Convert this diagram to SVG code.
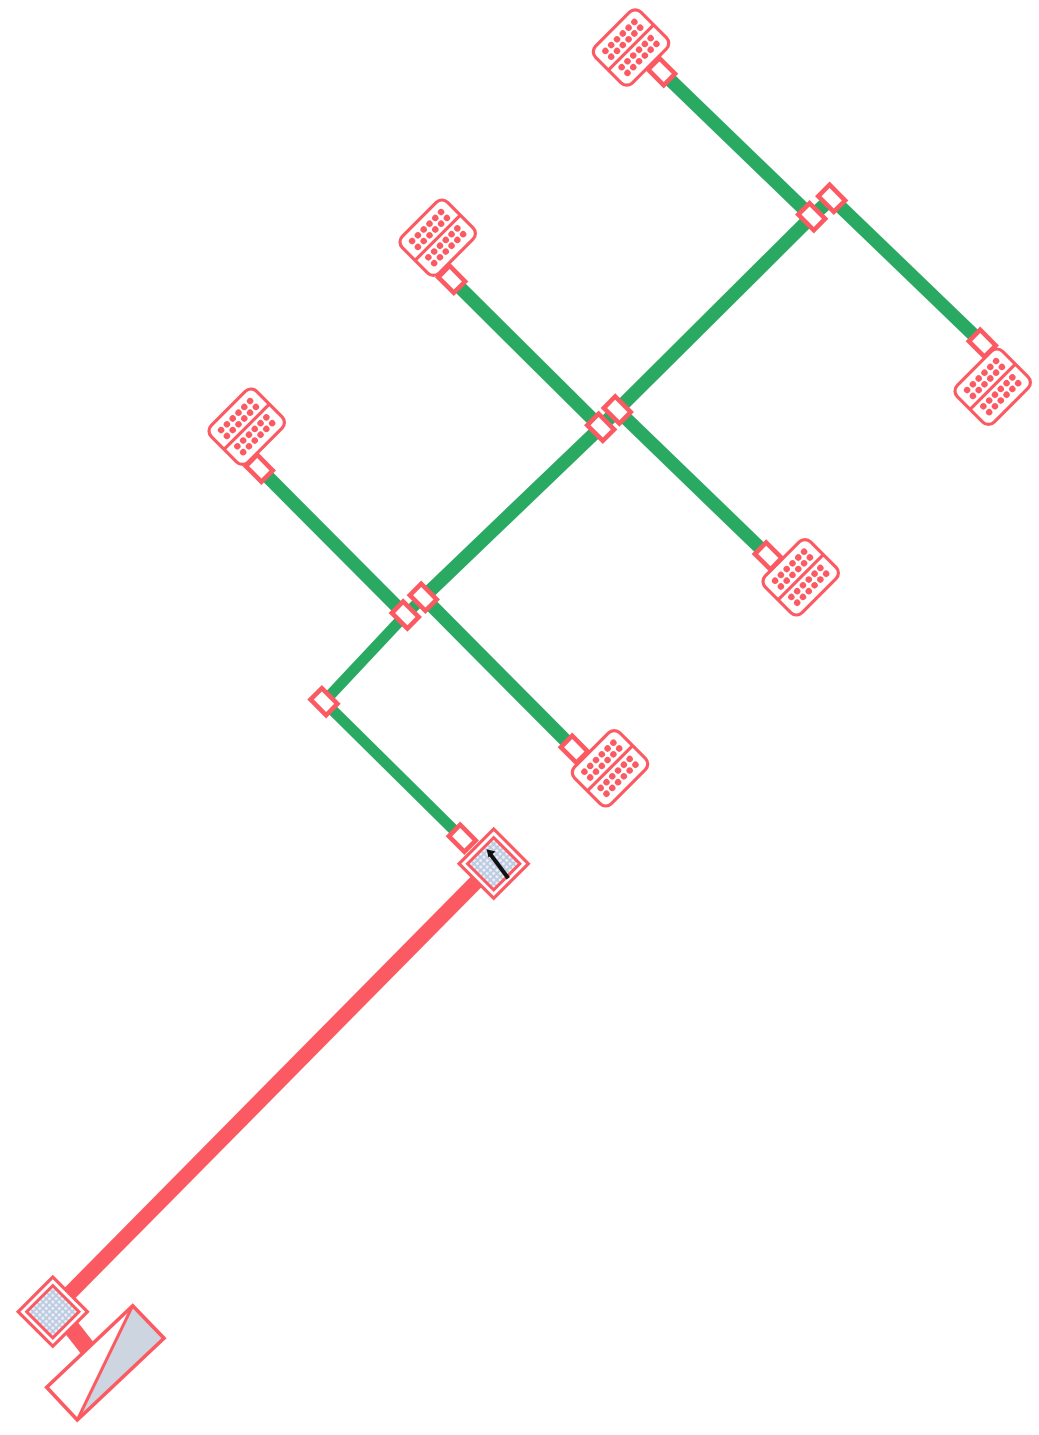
<svg xmlns="http://www.w3.org/2000/svg" width="1039" height="1435" viewBox="0 0 1039 1435">
<style>
.g{stroke:#2aa962;fill:none}
.g1{stroke-width:13.5}
.g2{stroke-width:11}
.r{stroke:#fb5a62;fill:none}
.o{stroke:#fb5a62;stroke-width:3.2;fill:#fff}
.h{stroke:#fb5a62;stroke-width:3;fill:url(#hatch)}
.p{stroke:#fb5a62;stroke-width:4.6;fill:#fff}
.d{fill:#fb5a62;stroke:none}
</style>
<defs>
<pattern id="hatch" width="4.6" height="4.6" patternUnits="userSpaceOnUse">
<rect width="4.6" height="4.6" fill="#bccbe2"/>
<circle cx="2.3" cy="2.3" r="1.5" fill="#eef1f6"/>
</pattern>
<g id="terminal">
<rect class="o" x="-32" y="-26" width="64" height="52" rx="8"/>
<path class="r" stroke-width="3.2" d="M-32 0H32"/>
<g id="dotrow">
<circle class="d" cx="-20.5" cy="-15.7" r="3.2"/><circle class="d" cx="-12.3" cy="-15.7" r="3.2"/><circle class="d" cx="-4.1" cy="-15.7" r="3.2"/><circle class="d" cx="4.1" cy="-15.7" r="3.2"/><circle class="d" cx="12.3" cy="-15.7" r="3.2"/><circle class="d" cx="20.5" cy="-15.7" r="3.2"/>
</g>
<use href="#dotrow" y="8.2"/>
<use href="#dotrow" y="23"/>
<use href="#dotrow" y="31.2"/>
</g>
<rect id="port" class="p" x="-8" y="-11" width="16" height="22"/>
<g id="valve">
<rect class="o" x="-24.5" y="-24.5" width="49" height="49"/>
<rect class="h" x="-18.5" y="-18.5" width="37" height="37"/>
</g>
</defs>
<rect width="1039" height="1435" fill="#fff"/>
<g id="connectors">
<path class="g g1" d="M661.6 71.7L811.7 216.7"/>
<path class="g g1" d="M831.7 198.3L982.3 343.3"/>
<path class="g g1" d="M617.3 410L811.7 216.7L831.7 198.3"/>
<path class="g g1" d="M451.7 279.3L600.7 427.3"/>
<path class="g g1" d="M617.3 410L768.3 556"/>
<path class="g g1" d="M423.3 597.3L600.7 427.3L617.3 410"/>
<path class="g g1" d="M259.3 468.3L405.3 615"/>
<path class="g g1" d="M423.3 597.3L574.3 749.3"/>
<path class="g g2" d="M324 701.7L405.3 615L423.3 597.3"/>
<path class="g g2" d="M324 701.7L462.3 838.3"/>
<path class="r" stroke-width="15" d="M480 878L66 1297"/>
<path class="r" stroke-width="17" d="M70 1326L88 1349"/>
</g>
<g id="terminal-1"><use href="#terminal" transform="translate(631 47.5) rotate(-45)"/><use href="#port" transform="translate(661.6 71.7) rotate(-45)"/></g>
<g id="terminal-2"><use href="#terminal" transform="translate(437.7 237.7) rotate(-45)"/><use href="#port" transform="translate(451.7 279.3) rotate(-45)"/></g>
<g id="terminal-3"><use href="#terminal" transform="translate(246.7 426.7) rotate(-45)"/><use href="#port" transform="translate(259.3 468.3) rotate(-45)"/></g>
<g id="terminal-4"><use href="#terminal" transform="translate(992.7 386.7) rotate(-45)"/><use href="#port" transform="translate(982.3 343.3) rotate(-45)"/></g>
<g id="terminal-5"><use href="#terminal" transform="translate(800.7 577.3) rotate(-45)"/><use href="#port" transform="translate(768.3 556) rotate(-45)"/></g>
<g id="terminal-6"><use href="#terminal" transform="translate(610 768.3) rotate(-45)"/><use href="#port" transform="translate(574.3 749.3) rotate(-45)"/></g>
<g id="junction-a1"><use href="#port" transform="translate(811.7 216.7) rotate(-45)"/></g>
<g id="junction-a2"><use href="#port" transform="translate(831.7 198.3) rotate(-45)"/></g>
<g id="junction-b1"><use href="#port" transform="translate(600.7 427.3) rotate(-45)"/></g>
<g id="junction-b2"><use href="#port" transform="translate(617.3 410) rotate(-45)"/></g>
<g id="junction-c1"><use href="#port" transform="translate(405.3 615) rotate(-45)"/></g>
<g id="junction-c2"><use href="#port" transform="translate(423.3 597.3) rotate(-45)"/></g>
<g id="junction-d"><use href="#port" transform="translate(324 701.7) rotate(-45)"/></g>
<g id="junction-e"><use href="#port" transform="translate(462.3 838.3) rotate(-45)"/></g>
<g id="valve-top">
<use href="#valve" transform="translate(493.7 863.7) rotate(-45)"/>
<path d="M508.3 878.3L490 853.7" stroke="#111" stroke-width="4" fill="none"/>
<path d="M486.6 849.2L495.5 851.5L488.5 857.5Z" fill="#111"/>
</g>
<g id="valve-bottom"><use href="#valve" transform="translate(52.8 1311.7) rotate(-45)"/></g>
<g id="source">
<path d="M132.7 1305.7L164 1338.3L77.3 1420Z" fill="#ccd5e0"/>
<path class="r" stroke-width="3.6" d="M132.7 1305.7L164 1338.3L77.3 1420L46.7 1387.3Z"/>
<path class="r" stroke-width="3" d="M132.7 1305.7L77.3 1420"/>
</g>
</svg>
